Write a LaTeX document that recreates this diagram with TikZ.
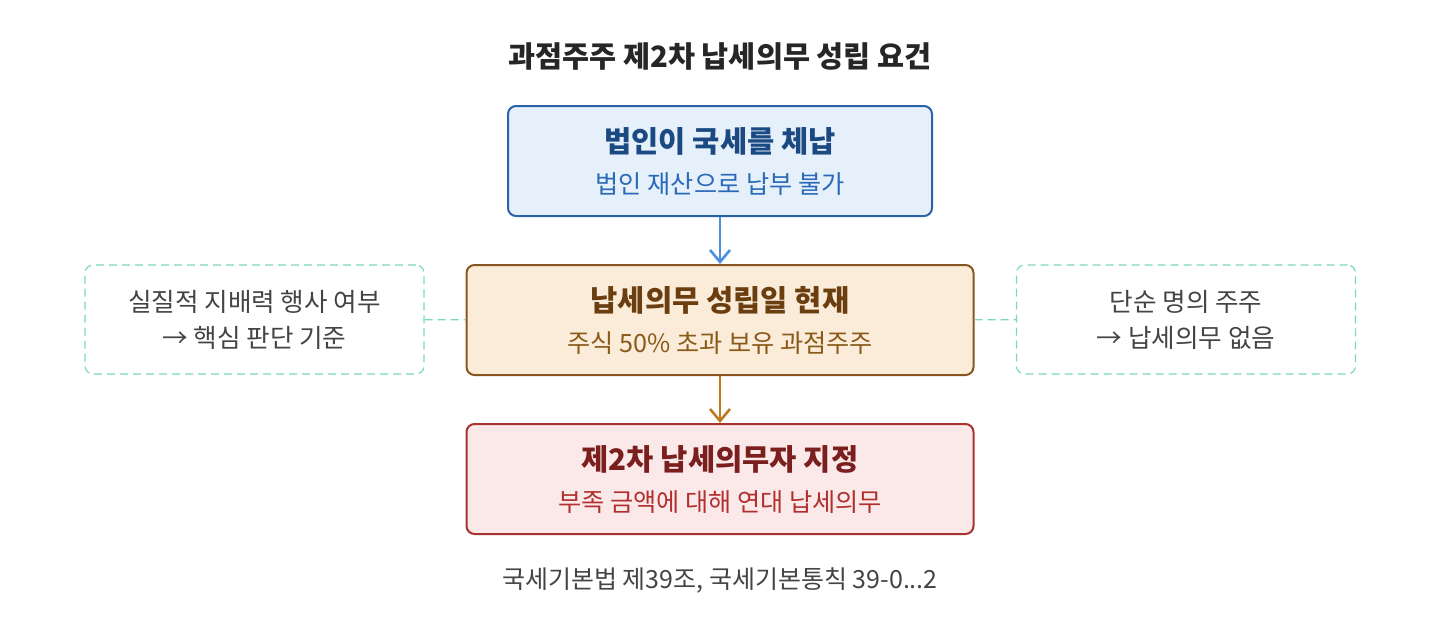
\documentclass[tikz,border=0pt]{standalone}
\usepackage{fontspec}
\setmainfont{Noto Sans CJK KR}
\usetikzlibrary{arrows.meta,positioning}
\definecolor{blueline}{HTML}{2A64A8}
\definecolor{bluefill}{HTML}{E6F0FA}
\definecolor{bluetitle}{HTML}{1B4A82}
\definecolor{bluesub}{HTML}{2A6AB8}
\definecolor{bluearrow}{HTML}{4A8FE0}
\definecolor{brownline}{HTML}{8A5520}
\definecolor{brownfill}{HTML}{FAECD9}
\definecolor{browntitle}{HTML}{6B3E10}
\definecolor{brownsub}{HTML}{8A5A1A}
\definecolor{brownarrow}{HTML}{C07A20}
\definecolor{redline}{HTML}{A83232}
\definecolor{redfill}{HTML}{FBE9E9}
\definecolor{redtitle}{HTML}{7A1E1E}
\definecolor{redsub}{HTML}{B03030}
\definecolor{noteline}{HTML}{7DD8B5}
\definecolor{notetext}{HTML}{444444}

\begin{document}
\begin{tikzpicture}[
  x=0.5pt, y=-0.5pt,
  every node/.style={font=\fontsize{12.6}{15}\selectfont, align=center, inner sep=0pt},
  stepbox/.style={draw, line width=1pt, rounded corners=4pt, minimum height=55pt},
  note/.style={draw=noteline, dash pattern=on 4pt off 2.5pt, line width=0.6pt, rounded corners=4pt, minimum width=169.5pt, minimum height=54.5pt, text=notetext, font=\fontsize{12.8}{15}\selectfont},
  flow/.style={line width=1.3pt, -{Straight Barb[length=6pt,width=10pt,line width=1.3pt]}},
  link/.style={draw=noteline, dash pattern=on 4pt off 2.5pt, line width=0.6pt}
]
\useasboundingbox (0,0) rectangle (1440,616);

\node[font=\bfseries\fontsize{14.7}{17}\selectfont, text=black!85] (heading) at (720,57) {과점주주 제2차 납세의무 성립 요건};

% main chain
\node[stepbox, draw=blueline, fill=bluefill, minimum width=212pt] (arrears) at (720,161)
  {{\bfseries\fontsize{14.8}{17}\selectfont\color{bluetitle}법인이 국세를 체납}\\[5.5pt]
   {\color{bluesub}법인 재산으로 납부 불가}};
\node[stepbox, draw=brownline, fill=brownfill, minimum width=253.5pt] (existence) at (720,320)
  {{\bfseries\fontsize{14.8}{17}\selectfont\color{browntitle}납세의무 성립일 현재}\\[5.5pt]
   {\color{brownsub}주식 50\% 초과 보유 과점주주}};
\node[stepbox, draw=redline, fill=redfill, minimum width=253.5pt] (designation) at (720,479)
  {{\bfseries\fontsize{14.8}{17}\selectfont\color{redtitle}제2차 납세의무자 지정}\\[5.5pt]
   {\color{redsub}부족 금액에 대해 연대 납세의무}};

\draw[flow, bluearrow] (arrears) -- (existence);
\draw[flow, brownarrow] (existence) -- (designation);

% side notes
\node[note] (control) at (254.5,319.5) {실질적 지배력 행사 여부\\[3pt]→ 핵심 판단 기준};
\node[note] (nominee) at (1186,319.5) {단순 명의 주주\\[3pt]→ 납세의무 없음};
\draw[link] (control) -- (existence);
\draw[link] (existence) -- (nominee);

\node[text=notetext, font=\fontsize{12.5}{15}\selectfont] (basis) at (720,580) {국세기본법 제39조, 국세기본통칙 39-0...2};
\end{tikzpicture}
\end{document}
